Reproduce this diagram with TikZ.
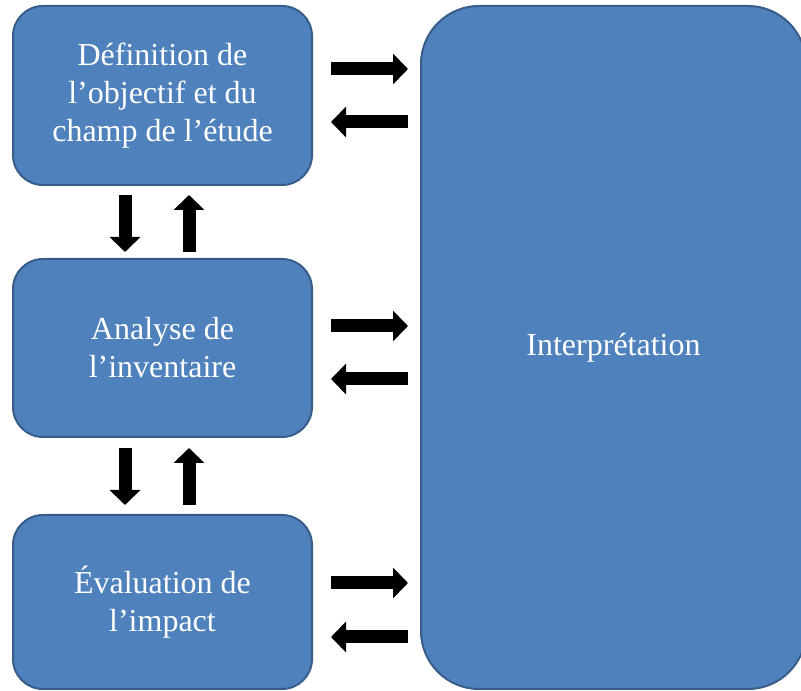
\documentclass[tikz,border=0pt]{standalone}
\usepackage{fontspec}
\setmainfont{Liberation Serif}
\usetikzlibrary{arrows.meta}
\definecolor{boxblue}{HTML}{4F81BD}
\definecolor{boxline}{HTML}{385D8A}

\begin{document}
\begin{tikzpicture}[x=1pt,y=1pt]
\useasboundingbox (0,0) rectangle (801,691);
\begin{scope}[every node/.style={draw=boxline,line width=2pt,fill=boxblue,text=white,
              rounded corners=30pt,align=center,inner sep=0pt,
              font=\fontsize{32}{38}\selectfont}]
    \node[minimum width=299pt,minimum height=179pt] (def) at (162.5,595.5) {Définition de\\l’objectif et du\\champ de l’étude};
    \node[minimum width=299pt,minimum height=178pt] (inv) at (162.5,343) {Analyse de\\l’inventaire};
    \node[minimum width=299pt,minimum height=174pt] (eval) at (162.5,89) {Évaluation de\\l’impact};
    \node[minimum width=385pt,minimum height=683pt,rounded corners=58pt] (interp) at (613.5,343.5) {Interprétation};
\end{scope}

\begin{scope}[>={Triangle[width=30pt,length=15pt]},
              every edge/.style={draw=black,line width=13pt}]
    \path [->] ([xshift=18pt,yshift=26.5pt]def.east) edge ([xshift=-12pt,yshift=26.5pt]def.east -| interp.west);
    \path [<-] ([xshift=18pt,yshift=-26.5pt]def.east) edge ([xshift=-12pt,yshift=-26.5pt]def.east -| interp.west);
    \path [->] ([xshift=18pt,yshift=22pt]inv.east) edge ([xshift=-12pt,yshift=22pt]inv.east -| interp.west);
    \path [<-] ([xshift=18pt,yshift=-31pt]inv.east) edge ([xshift=-12pt,yshift=-31pt]inv.east -| interp.west);
    \path [->] ([xshift=18pt,yshift=19pt]eval.east) edge ([xshift=-12pt,yshift=19pt]eval.east -| interp.west);
    \path [<-] ([xshift=18pt,yshift=-35pt]eval.east) edge ([xshift=-12pt,yshift=-35pt]eval.east -| interp.west);
    \path [->] ([xshift=-37.5pt,yshift=-9pt]def.south) edge ([xshift=-37.5pt,yshift=6pt]inv.north);
    \path [<-] ([xshift=26.5pt,yshift=-9pt]def.south) edge ([xshift=26.5pt,yshift=6pt]inv.north);
    \path [->] ([xshift=-37.5pt,yshift=-10pt]inv.south) edge ([xshift=-37.5pt,yshift=9pt]eval.north);
    \path [<-] ([xshift=26.5pt,yshift=-10pt]inv.south) edge ([xshift=26.5pt,yshift=9pt]eval.north);
\end{scope}
\end{tikzpicture}
\end{document}
